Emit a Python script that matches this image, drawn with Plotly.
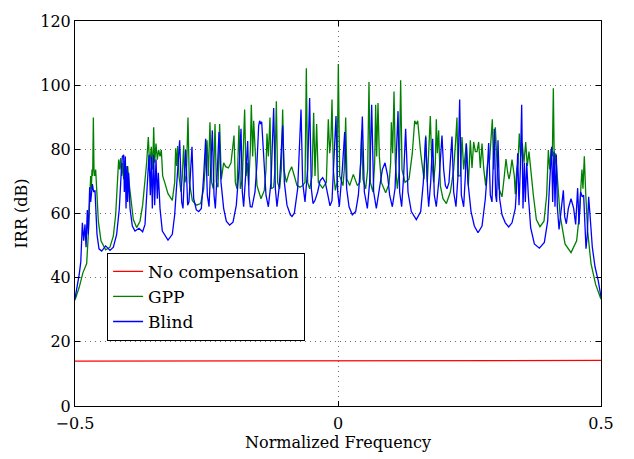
import plotly.graph_objects as go

# ---------------- data ----------------
nocomp_freq = [-0.5, -0.25, 0.0, 0.25, 0.5]
nocomp_irr = [14.0, 14.05, 14.1, 14.15, 14.2]

gpp_freq = [
    -0.5, -0.492, -0.485, -0.4778, -0.4747, -0.4721, -0.4702, -0.4689, -0.4677, -0.4664, -0.4651, -0.4639,
    -0.4626, -0.4607, -0.4588, -0.4556, -0.4506, -0.4417, -0.4335, -0.4271, -0.4227, -0.4195, -0.417, -0.4151,
    -0.4132, -0.4113, -0.4094, -0.4075, -0.4049, -0.4024, -0.3999, -0.3973, -0.3935, -0.3891, -0.3828, -0.3764,
    -0.3714, -0.3669, -0.3638, -0.3606, -0.3581, -0.3549, -0.3523, -0.3504, -0.3485, -0.346, -0.3435, -0.341,
    -0.3384, -0.3359, -0.3333, -0.3295, -0.3232, -0.315, -0.3105, -0.3086, -0.3067, -0.3048, -0.3023, -0.2985,
    -0.2959, -0.2934, -0.2909, -0.2883, -0.2852, -0.2826, -0.2769, -0.2693, -0.2611, -0.2554, -0.2516, -0.249,
    -0.2465, -0.2434, -0.2402, -0.237, -0.2338, -0.2313, -0.2281, -0.225, -0.2218, -0.2174, -0.2136, -0.2085,
    -0.2034, -0.2003, -0.1977, -0.1952, -0.192, -0.1882, -0.1857, -0.1819, -0.1775, -0.1749, -0.1724, -0.1699,
    -0.1667, -0.1648, -0.1622, -0.1603, -0.1578, -0.154, -0.1464, -0.1401, -0.1369, -0.135, -0.1324, -0.1293,
    -0.1267, -0.1223, -0.1198, -0.1172, -0.1147, -0.1109, -0.1077, -0.1052, -0.1027, -0.0982, -0.0932, -0.0881,
    -0.083, -0.0779, -0.0723, -0.0672, -0.0627, -0.0602, -0.0577, -0.0539, -0.0494, -0.0463, -0.0437, -0.0406,
    -0.0374, -0.0292, -0.0222, -0.0184, -0.0158, -0.0133, -0.0114, -0.0089, -0.0051, -0.0019, 0.0006, 0.0032,
    0.0095, 0.012, 0.0146, 0.0171, 0.0222, 0.0291, 0.0368, 0.0418, 0.045, 0.0475, 0.0526, 0.0564,
    0.0589, 0.0615, 0.0665, 0.0697, 0.0716, 0.0735, 0.076, 0.0786, 0.0824, 0.0906, 0.097, 0.1001,
    0.1014, 0.1039, 0.1065, 0.109, 0.1128, 0.1166, 0.1191, 0.1217, 0.1274, 0.135, 0.1413, 0.1458,
    0.1489, 0.1515, 0.1572, 0.1635, 0.1667, 0.1698, 0.1755, 0.1781, 0.1819, 0.185, 0.1869, 0.1888,
    0.1914, 0.1945, 0.1996, 0.206, 0.2136, 0.2199, 0.2237, 0.2262, 0.2281, 0.2326, 0.2357, 0.2389,
    0.244, 0.2478, 0.2516, 0.2548, 0.2579, 0.2611, 0.2643, 0.2674, 0.2706, 0.2738, 0.2769, 0.2807,
    0.2845, 0.2883, 0.2934, 0.2959, 0.2991, 0.3023, 0.3061, 0.3118, 0.3162, 0.3194, 0.3226, 0.3251,
    0.3276, 0.3308, 0.3352, 0.3371, 0.3397, 0.3422, 0.3447, 0.3473, 0.3504, 0.3536, 0.3568, 0.3599,
    0.3631, 0.3663, 0.3714, 0.3771, 0.384, 0.3916, 0.3967, 0.3999, 0.4024, 0.4049, 0.4075, 0.4094,
    0.4113, 0.4138, 0.417, 0.4221, 0.4316, 0.443, 0.4537, 0.4594, 0.4619, 0.4638, 0.4657, 0.4683,
    0.4708, 0.4746, 0.481, 0.4898, 0.5,
]
gpp_irr = [
    33.0, 37.0, 41.5, 44.4, 53.5, 65.7, 71.7, 67.7, 73.7, 71.7, 89.9, 73.7,
    71.7, 73.7, 66.7, 57.6, 51.5, 48.7, 49.5, 53.0, 59.6, 69.7, 76.8, 73.7,
    77.3, 71.7, 75.8, 70.7, 76.3, 70.7, 74.8, 69.7, 63.6, 58.1, 55.6, 57.6,
    62.6, 69.7, 75.8, 83.8, 74.8, 80.8, 73.7, 86.9, 75.8, 81.8, 76.8, 79.8,
    77.8, 79.8, 71.7, 69.7, 66.2, 64.1, 69.7, 80.3, 74.8, 81.0, 71.7, 66.7,
    71.7, 81.3, 69.7, 71.7, 89.9, 69.7, 64.1, 62.6, 63.1, 67.7, 75.8, 82.8,
    71.7, 88.4, 69.7, 67.7, 87.9, 69.7, 68.2, 87.9, 70.7, 75.8, 74.6, 74.2,
    75.8, 80.8, 84.3, 69.7, 67.7, 87.4, 67.7, 70.7, 92.4, 71.7, 75.8, 68.7,
    79.8, 93.9, 77.8, 88.9, 78.8, 68.7, 64.6, 67.2, 73.7, 84.9, 77.8, 89.9,
    67.7, 68.2, 73.7, 95.0, 69.7, 67.7, 73.7, 92.4, 73.7, 69.7, 72.7, 74.6,
    71.7, 68.7, 68.2, 68.7, 69.7, 105.3, 69.7, 67.7, 71.7, 91.4, 71.7, 87.9,
    69.7, 67.9, 69.7, 89.4, 78.8, 83.8, 95.5, 73.7, 67.2, 69.7, 106.6, 71.7,
    68.7, 73.7, 89.9, 70.7, 68.7, 72.2, 68.7, 69.7, 85.9, 70.7, 67.7, 73.7,
    101.0, 69.7, 66.7, 75.8, 93.9, 77.8, 94.4, 77.8, 69.7, 66.5, 69.2, 75.8,
    88.4, 78.8, 98.0, 75.8, 67.7, 73.7, 101.5, 73.7, 69.7, 70.7, 78.8, 88.9,
    87.8, 88.9, 78.8, 70.7, 84.3, 69.7, 90.4, 76.8, 69.7, 75.8, 89.4, 78.8,
    85.9, 68.7, 64.6, 63.1, 66.7, 73.7, 82.8, 89.9, 71.7, 71.7, 83.8, 73.7,
    81.8, 68.7, 82.8, 74.2, 82.3, 79.3, 79.3, 82.3, 74.2, 81.8, 74.2, 68.7,
    75.8, 76.8, 89.4, 73.7, 86.9, 75.8, 67.7, 65.2, 71.7, 77.0, 72.7, 70.7,
    72.7, 76.8, 71.7, 66.0, 73.7, 75.8, 84.9, 77.8, 81.8, 75.8, 82.3, 74.8,
    79.3, 73.7, 65.7, 58.1, 55.9, 57.6, 65.7, 79.8, 73.7, 79.8, 77.8, 99.0,
    73.7, 78.8, 71.7, 59.6, 50.5, 47.8, 51.5, 60.6, 68.7, 73.7, 67.7, 77.8,
    66.7, 54.5, 44.4, 37.9, 33.3,
]

blind_freq = [
    -0.5, -0.496, -0.492, -0.489, -0.486, -0.4835, -0.481, -0.479, -0.4766, -0.4747, -0.4721, -0.4702,
    -0.467, -0.4645, -0.462, -0.4582, -0.4544, -0.4493, -0.4417, -0.4335, -0.4271, -0.4208, -0.4157, -0.4125,
    -0.41, -0.4075, -0.4062, -0.4043, -0.403, -0.4011, -0.3999, -0.398, -0.3954, -0.391, -0.3859, -0.3783,
    -0.3714, -0.3669, -0.3638, -0.3612, -0.3593, -0.3568, -0.3549, -0.353, -0.3504, -0.3485, -0.346, -0.3435,
    -0.3416, -0.3384, -0.334, -0.3232, -0.315, -0.3105, -0.3061, -0.301, -0.2972, -0.2947, -0.2921, -0.2896,
    -0.2858, -0.2833, -0.2801, -0.2776, -0.2744, -0.2693, -0.2649, -0.2598, -0.2554, -0.2516, -0.2484, -0.2452,
    -0.2421, -0.2389, -0.2357, -0.2332, -0.2294, -0.2262, -0.2224, -0.2174, -0.2123, -0.206, -0.1996, -0.1933,
    -0.1882, -0.1844, -0.1819, -0.1794, -0.1756, -0.1717, -0.1692, -0.1667, -0.1635, -0.1578, -0.154, -0.1508,
    -0.1489, -0.147, -0.1451, -0.1413, -0.1369, -0.1324, -0.1274, -0.1223, -0.1191, -0.116, -0.1115, -0.1052,
    -0.102, -0.097, -0.0906, -0.0875, -0.083, -0.0767, -0.0703, -0.0672, -0.0627, -0.0577, -0.0539, -0.0507,
    -0.0475, -0.0437, -0.0387, -0.0342, -0.0292, -0.0241, -0.0196, -0.0152, -0.0114, -0.0083, -0.0038, -0.0006,
    0.0025, 0.0082, 0.0127, 0.0165, 0.021, 0.0272, 0.0336, 0.0387, 0.0431, 0.0463, 0.0501, 0.0558,
    0.0602, 0.064, 0.0678, 0.0729, 0.0779, 0.0843, 0.0894, 0.0944, 0.0982, 0.1033, 0.1084, 0.1141,
    0.1172, 0.121, 0.1248, 0.1286, 0.1331, 0.1394, 0.1489, 0.1572, 0.1622, 0.1667, 0.1705, 0.1724,
    0.1762, 0.18, 0.1831, 0.1869, 0.1926, 0.1977, 0.2009, 0.2041, 0.2072, 0.211, 0.2167, 0.2199,
    0.2243, 0.2281, 0.2313, 0.2345, 0.2389, 0.2421, 0.244, 0.2471, 0.2529, 0.2592, 0.2662, 0.2738,
    0.2801, 0.2833, 0.2864, 0.2896, 0.2928, 0.2972, 0.2997, 0.3016, 0.3042, 0.3073, 0.3118, 0.3181,
    0.3245, 0.3308, 0.3371, 0.339, 0.3416, 0.3441, 0.3466, 0.3492, 0.3517, 0.3542, 0.3561, 0.3587,
    0.3618, 0.3663, 0.3733, 0.3828, 0.3923, 0.3986, 0.4024, 0.4062, 0.4081, 0.4106, 0.4125, 0.415,
    0.417, 0.4202, 0.4246, 0.4284, 0.4309, 0.4341, 0.4379, 0.443, 0.448, 0.4518, 0.4556, 0.4582,
    0.4613, 0.4645, 0.467, 0.4696, 0.4715, 0.474, 0.4765, 0.4791, 0.4835, 0.4886, 0.4949, 0.5,
]
blind_irr = [
    33.5, 37.0, 41.0, 45.0, 57.1, 51.5, 56.6, 49.5, 61.1, 53.5, 68.2, 63.6,
    69.2, 66.7, 67.2, 53.5, 49.0, 48.3, 49.9, 48.5, 49.5, 53.5, 61.6, 71.7,
    77.8, 78.3, 66.7, 77.8, 61.6, 74.8, 63.6, 72.7, 61.6, 56.1, 54.5, 55.4,
    54.3, 56.6, 66.7, 75.3, 78.3, 65.7, 77.8, 61.6, 78.3, 62.6, 76.8, 64.6,
    72.7, 61.6, 54.5, 51.7, 53.5, 59.6, 71.7, 82.8, 63.6, 61.6, 71.7, 79.8,
    62.6, 63.6, 73.7, 80.8, 64.6, 61.1, 60.6, 61.6, 71.7, 83.3, 65.7, 62.1,
    73.7, 85.9, 65.7, 61.6, 73.7, 85.4, 69.7, 61.6, 57.6, 56.4, 57.3, 62.6,
    73.7, 86.4, 66.7, 62.1, 71.7, 82.6, 65.7, 62.1, 62.0, 66.7, 75.8, 87.4,
    88.9, 87.9, 88.6, 75.8, 65.7, 62.1, 69.7, 92.9, 67.7, 62.1, 68.7, 87.4,
    69.7, 62.6, 59.6, 59.1, 60.1, 67.7, 92.4, 69.7, 63.6, 73.7, 96.0, 67.7,
    63.1, 64.1, 66.7, 70.2, 71.2, 69.7, 65.7, 62.4, 64.0, 73.7, 90.4, 66.7,
    62.1, 73.7, 85.4, 67.7, 62.1, 59.6, 60.6, 65.7, 75.8, 90.2, 66.7, 61.6,
    69.7, 93.9, 66.7, 61.6, 66.7, 73.7, 75.8, 71.7, 65.7, 62.1, 67.7, 91.9,
    66.7, 62.1, 71.7, 86.4, 66.7, 60.6, 58.1, 60.6, 69.7, 83.8, 66.7, 62.1,
    69.7, 83.3, 65.7, 62.1, 71.7, 84.3, 73.7, 68.7, 67.7, 69.7, 84.0, 66.7,
    62.1, 71.7, 95.5, 65.7, 62.1, 71.7, 81.8, 69.7, 60.6, 56.1, 54.0, 56.1,
    64.6, 71.7, 82.0, 65.7, 63.6, 86.4, 65.7, 63.6, 82.8, 64.6, 59.6, 57.1,
    55.8, 57.1, 61.6, 66.7, 78.8, 62.6, 73.7, 93.9, 61.6, 75.8, 63.6, 75.8,
    65.7, 55.6, 50.5, 49.2, 51.0, 57.6, 69.7, 80.8, 63.6, 79.3, 62.1, 78.3,
    62.1, 55.0, 61.6, 67.2, 59.1, 56.8, 61.6, 64.6, 61.6, 56.6, 67.9, 56.6,
    66.7, 65.2, 65.7, 53.5, 49.0, 53.5, 65.2, 59.6, 49.5, 43.4, 38.9, 34.0,
]

x_tick_vals = [-0.5, 0, 0.5]
x_tick_text = ["\u22120.5", "0", "0.5"]
y_tick_vals = [0, 20, 40, 60, 80, 100, 120]

FONT = "DejaVu Serif"

fig = go.Figure()
fig.add_trace(go.Scatter(x=nocomp_freq, y=nocomp_irr, mode="lines", name="No compensation",
                         line=dict(color="#FF0000", width=1.3)))
fig.add_trace(go.Scatter(x=gpp_freq, y=gpp_irr, mode="lines", name="GPP",
                         line=dict(color="#008000", width=1.3)))
fig.add_trace(go.Scatter(x=blind_freq, y=blind_irr, mode="lines", name="Blind",
                         line=dict(color="#0000FF", width=1.3)))

axis_common = dict(
    showline=True, linecolor="black", linewidth=1, mirror="allticks",
    ticks="inside", ticklen=5, tickcolor="black", tickwidth=1,
    showgrid=True, gridcolor="#6f6f6f", gridwidth=1, griddash="1px,4px",
    zeroline=False, tickfont=dict(family=FONT, size=16, color="black"),
)

fig.update_layout(
    width=634, height=459,
    margin=dict(l=75, r=33, t=12, b=53),
    paper_bgcolor="white", plot_bgcolor="white",
    font=dict(family=FONT, size=16, color="black"),
    showlegend=True,
    legend=dict(x=0.061, y=0.398, xanchor="left", yanchor="top",
                bgcolor="white", bordercolor="black", borderwidth=1,
                font=dict(family=FONT, size=17, color="black"),
                tracegroupgap=0),
    xaxis=dict(range=[-0.5, 0.5], tickvals=x_tick_vals, ticktext=x_tick_text,
               ticklabelstandoff=3,
               title=dict(text="Normalized Frequency", font=dict(family=FONT, size=16), standoff=3),
               **axis_common),
    yaxis=dict(range=[0, 120], tickvals=y_tick_vals,
               title=dict(text="IRR (dB)", font=dict(family=FONT, size=16), standoff=8),
               **axis_common),
)

fig.write_html("out.html")
